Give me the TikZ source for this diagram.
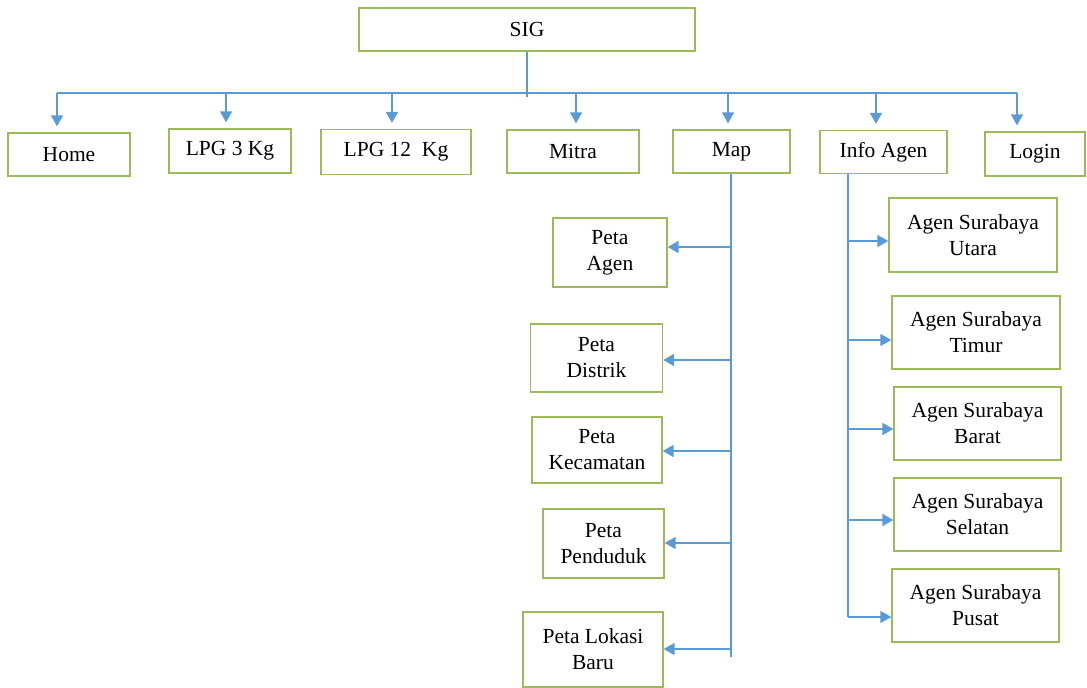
\documentclass[tikz,border=0pt]{standalone}
\usepackage{fontspec}
\setmainfont{Liberation Serif}
\usetikzlibrary{arrows.meta}
\definecolor{boxgreen}{HTML}{9BBB59}
\definecolor{lineblue}{HTML}{5B9BD5}
\tikzset{
  bx/.style={draw=boxgreen, line width=1.3pt, inner sep=0pt, align=center,
    font=\fontsize{21.5}{26}\selectfont},
  conn/.style={draw=lineblue, line width=1.5pt},
  arr/.style={conn, -{Triangle[length=11pt,width=12pt]}},
}
\begin{document}
\begin{tikzpicture}[x=1pt,y=-1pt]
\useasboundingbox (0,0) rectangle (1087,688);
% top
\node[bx, minimum width=336pt, minimum height=43pt] (sig) at (527,29.5) {SIG};
% level 1
\node[bx, minimum width=122pt, minimum height=43pt] (home) at (69,154.5) {Home};
\node[bx, minimum width=122pt, minimum height=44pt] (lpg3) at (230,151) {LPG 3 Kg};
\node[bx, minimum width=150pt, minimum height=45pt] (lpg12) at (396,152) {LPG 12\ \ Kg};
\node[bx, minimum width=132pt, minimum height=43pt] (mitra) at (573,151.5) {Mitra};
\node[bx, minimum width=117pt, minimum height=43pt] (map) at (731.5,151.5) {Map};
\node[bx, minimum width=127pt, minimum height=43pt] (info) at (883.5,152) {Info Agen};
\node[bx, minimum width=100pt, minimum height=44pt] (login) at (1035,154) {Login};
% bus
\coordinate (stub) at (527,97);
\coordinate (bhome) at (57,93);
\coordinate (blpg3) at (226,93);
\coordinate (blpg12) at (392,93);
\coordinate (bmitra) at (576,93);
\coordinate (bmap) at (728,93);
\coordinate (binfo) at (876,93);
\coordinate (blogin) at (1017,93);
\draw[conn] (sig.south) -- (stub);
\draw[conn] (bhome) -- (blogin);
\foreach \b/\n in {bhome/home,blpg3/lpg3,blpg12/lpg12,bmitra/mitra,bmap/map,binfo/info,blogin/login}
  \draw[arr, shorten >=6pt] (\b) -- (\b |- \n.north);
% map children
\node[bx, minimum width=114pt, minimum height=69pt] (pa) at (610,252.5) {Peta\\Agen};
\node[bx, minimum width=132pt, minimum height=68pt] (pd) at (596.5,358) {Peta\\Distrik};
\node[bx, minimum width=130pt, minimum height=66pt] (pk) at (597,450) {Peta\\Kecamatan};
\node[bx, minimum width=121pt, minimum height=69pt] (pp) at (603.5,543.5) {Peta\\Penduduk};
\node[bx, minimum width=140pt, minimum height=75pt] (pl) at (593,649.5) {Peta Lokasi\\Baru};
\coordinate (mapend) at (731,657);
\draw[conn] (map.south -| mapend) -- (mapend);
\coordinate (m1) at (731,247);
\coordinate (m2) at (731,360);
\coordinate (m3) at (731,451);
\coordinate (m4) at (731,543);
\coordinate (m5) at (731,649);
\foreach \m/\n in {m1/pa,m2/pd,m3/pk,m4/pp,m5/pl}
  \draw[arr] (\m) -- (\m -| \n.east);
% info children
\node[bx, minimum width=168pt, minimum height=74pt] (au) at (973,235) {Agen Surabaya\\Utara};
\node[bx, minimum width=168pt, minimum height=73pt] (at) at (976,332.5) {Agen Surabaya\\Timur};
\node[bx, minimum width=167pt, minimum height=73pt] (ab) at (977.5,423.5) {Agen Surabaya\\Barat};
\node[bx, minimum width=167pt, minimum height=73pt] (as) at (977.5,514.5) {Agen Surabaya\\Selatan};
\node[bx, minimum width=167pt, minimum height=73pt] (ap) at (975.5,605.5) {Agen Surabaya\\Pusat};
\coordinate (infoend) at (848,617);
\draw[conn] (info.south -| infoend) -- (infoend);
\coordinate (i1) at (848,241);
\coordinate (i2) at (848,340);
\coordinate (i3) at (848,429);
\coordinate (i4) at (848,520);
\coordinate (i5) at (848,617);
\foreach \m/\n in {i1/au,i2/at,i3/ab,i4/as,i5/ap}
  \draw[arr] (\m) -- (\m -| \n.west);
\end{tikzpicture}
\end{document}
